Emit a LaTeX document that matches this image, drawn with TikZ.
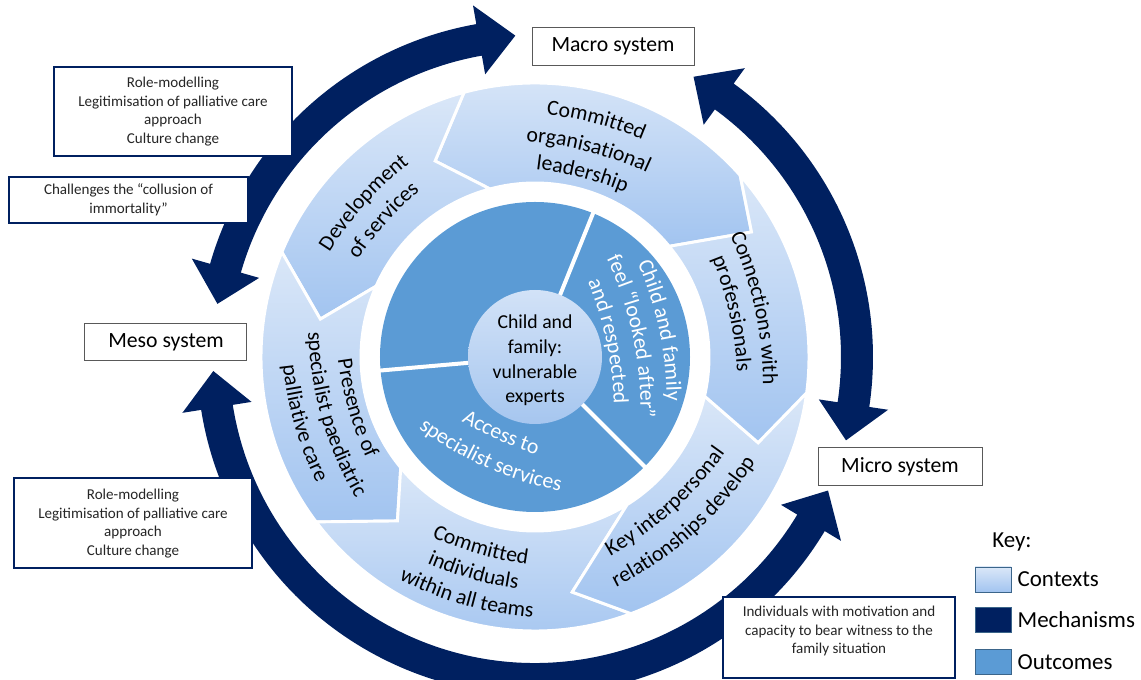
\documentclass[tikz,border=0pt]{standalone}
\usepackage{fontspec}
\setmainfont{Carlito}
\usetikzlibrary{decorations.text,positioning}
\definecolor{mechblue}{HTML}{002060}
\definecolor{outblue}{HTML}{5B9BD5}
\definecolor{ctxtop}{HTML}{DAE7F8}
\definecolor{ctxbot}{HTML}{A2C4F0}
\definecolor{coretop}{HTML}{D2E2F7}
\definecolor{corebot}{HTML}{A6C6EF}
\newcommand{\lblfont}{\fontsize{16.3}{19}\selectfont}

\begin{document}
\begin{tikzpicture}[x=0.75pt,y=0.75pt]
		\tikzset{ctx/.style = {top color=ctxtop, bottom color=ctxbot, draw=white, line width=2.2pt},
			mecharrow/.style = {fill=mechblue},
			ringtext/.style = {decorate, decoration={text along path, text align=center, text={|\lblfont|#1}}},
			outtext/.style = {decorate, decoration={text along path, text align=center, text color=white, text={|\lblfont|#1}}},
			sysbox/.style = {draw=black!65, line width=0.75pt, fill=white, minimum width=121.5pt, minimum height=27.8pt, font=\fontsize{16.3}{19}\selectfont},
			mechbox/.style = {draw=mechblue, line width=1.5pt, fill=white, align=center, text=black!85, font=\fontsize{11.3}{13.9}\selectfont, minimum width=178.5pt},
			keybox/.style = {draw=black!35!outblue, line width=0.6pt, minimum width=27pt, minimum height=18.75pt, inner sep=0pt},
			keylabel/.style = {anchor=west, inner sep=0pt, font=\fontsize{17.2}{20}\selectfont}}

		\useasboundingbox (-535,-323) rectangle (606,357);
		\clip (-535,-323) rectangle (606,357);

		% mechanisms
		\fill[mecharrow] (164:338) arc[start angle=164, end angle=100, radius=338] -- (100:357) -- (93.5:322) -- (100:287) -- (100:306) arc[start angle=100, end angle=164, radius=306] -- (164:287) -- (170.5:322) -- (164:357) -- cycle;
		\fill[mecharrow] (54:338) arc[start angle=54, end angle=-8.5, radius=338] -- (-8.5:357) -- (-15:322) -- (-8.5:287) -- (-8.5:306) arc[start angle=-8.5, end angle=54, radius=306] -- (54:287) -- (60.5:322) -- (54:357) -- cycle;
		\fill[mecharrow] (329:338) arc[start angle=329, end angle=189, radius=338] -- (189:357) -- (182.5:322) -- (189:287) -- (189:306) arc[start angle=189, end angle=329, radius=306] -- (329:287) -- (335.5:322) -- (329:357) -- cycle;

		% contexts
		\draw[ctx] (105:274) arc[start angle=105, end angle=41.5, radius=274] -- (30:250) -- (39.5:174) arc[start angle=39.5, end angle=105, radius=174] -- (117:220) -- cycle;
		\draw[ctx] (157.5:274) arc[start angle=157.5, end angle=105, radius=274] -- (117:220) -- (105:174) arc[start angle=105, end angle=156, radius=174] -- (170:218) -- cycle;
		\draw[ctx] (217:274) arc[start angle=217, end angle=157.5, radius=274] -- (170:218) -- (156:174) arc[start angle=156, end angle=219.5, radius=174] -- (230:214) -- cycle;
		\draw[ctx] (290.5:274) arc[start angle=290.5, end angle=217, radius=274] -- (230:214) -- (219.5:174) arc[start angle=219.5, end angle=302, radius=174] -- (279:238) -- cycle;
		\draw[ctx] (352.5:274) arc[start angle=352.5, end angle=290.5, radius=274] -- (279:238) -- (302:174) arc[start angle=302, end angle=347, radius=174] -- (339:239) -- cycle;
		\draw[ctx] (401.5:274) arc[start angle=401.5, end angle=352.5, radius=274] -- (339:239) -- (347:174) arc[start angle=347, end angle=399.5, radius=174] -- (390:250) -- cycle;

		% outcomes
		\fill[outblue] (0,0) circle[radius=155];
		\draw[white, line width=3pt] (68:60) -- (68:158);
		\draw[white, line width=3pt] (185:60) -- (185:158);
		\draw[white, line width=3pt] (315:60) -- (315:158);
		\shade[top color=coretop, bottom color=corebot] (0,0) circle[radius=67];
		\node[align=center, font=\fontsize{14.8}{18.4}\selectfont] (C_0) at (0,-3.5) {Child and\\family:\\vulnerable\\experts};

		% ring labels, tops outward
		\path[ringtext={Committed}] ([shift={(75.5:-109)}]110.5:350) arc[start angle=110.5, end angle=40.5, radius=350];
		\path[ringtext={organisational}] ([shift={(75.5:-138)}]110.5:350) arc[start angle=110.5, end angle=40.5, radius=350];
		\path[ringtext={leadership}] ([shift={(75.5:-165)}]110.5:350) arc[start angle=110.5, end angle=40.5, radius=350];
		\path[ringtext={Development}] ([shift={(138:-122)}]173:350) arc[start angle=173, end angle=103, radius=350];
		\path[ringtext={of services}] ([shift={(138:-150)}]173:350) arc[start angle=173, end angle=103, radius=350];
		\path[ringtext={Connections with}] ([shift={(12.5:-125)}]47.5:350) arc[start angle=47.5, end angle=-22.5, radius=350];
		\path[ringtext={professionals}] ([shift={(12.5:-151)}]47.5:350) arc[start angle=47.5, end angle=-22.5, radius=350];

		% ring labels, tops inward
		\path[ringtext={Presence of}] ([shift={(196:-156)}]161:350) arc[start angle=161, end angle=231, radius=350];
		\path[ringtext={specialist paediatric}] ([shift={(196:-128)}]161:350) arc[start angle=161, end angle=231, radius=350];
		\path[ringtext={palliative care}] ([shift={(196:-100)}]161:350) arc[start angle=161, end angle=231, radius=350];
		\path[ringtext={Committed}] ([shift={(254:-145)}]219:350) arc[start angle=219, end angle=289, radius=350];
		\path[ringtext={individuals}] ([shift={(254:-119)}]219:350) arc[start angle=219, end angle=289, radius=350];
		\path[ringtext={within all teams}] ([shift={(254:-92)}]219:350) arc[start angle=219, end angle=289, radius=350];
		\path[ringtext={Key interpersonal}] ([shift={(312:-143)}]277:350) arc[start angle=277, end angle=347, radius=350];
		\path[ringtext={relationships develop}] ([shift={(312:-112)}]277:350) arc[start angle=277, end angle=347, radius=350];

		% outcome labels
		\path[outtext={Child and family}] ([shift={(12:-223)}]47:350) arc[start angle=47, end angle=-23, radius=350];
		\path[outtext={feel “looked after”}] ([shift={(12:-250)}]47:350) arc[start angle=47, end angle=-23, radius=350];
		\path[outtext={and respected}] ([shift={(12:-277)}]47:350) arc[start angle=47, end angle=-23, radius=350];
		\path[outtext={Access to}] ([shift={(246:-259)}]211:350) arc[start angle=211, end angle=281, radius=350];
		\path[outtext={specialist services}] ([shift={(246:-229)}]211:350) arc[start angle=211, end angle=281, radius=350];

		% systems
		\node[sysbox] (S_1) at (78,310.5) {Macro system};
		\node[sysbox] (S_2) at (-369,15) {Meso system};
		\node[sysbox, minimum width=123pt] (S_3) at (365,-109.5) {Micro system};

		% mechanism boxes
		\node[mechbox, minimum height=66.8pt] (M_1) at (-362,245.5) {Role-modelling\\Legitimisation of palliative care\\approach\\Culture change};
		\node[mechbox, minimum width=179.3pt, minimum height=34.5pt] (M_2) at (-406.5,157) {Challenges the “collusion of\\immortality”};
		\node[mechbox, minimum height=67.5pt] (M_3) at (-402,-166.5) {Role-modelling\\Legitimisation of palliative care\\approach\\Culture change};
		\node[mechbox, minimum width=174pt, minimum height=60.8pt] (M_4) at (304,-280.5) {};
		\node[align=center, text=black!85, font=\fontsize{11.3}{13.9}\selectfont] (M_4t) at (304,-274) {Individuals with motivation and\\capacity to bear witness to the\\family situation};

		% key
		\node[keylabel] (K_0) at (457,-185) {Key:};
		\node[keybox, top color=ctxtop, bottom color=ctxbot] (K_1) at (458,-222.5) {};
		\node[keybox, fill=mechblue] (K_2) at (458,-263) {};
		\node[keybox, fill=outblue] (K_3) at (458,-305) {};
		\node[keylabel, right=4.5pt of K_1] (L_1) {Contexts};
		\node[keylabel, right=4.5pt of K_2] (L_2) {Mechanisms};
		\node[keylabel, right=4.5pt of K_3] (L_3) {Outcomes};

	\end{tikzpicture}
\end{document}
